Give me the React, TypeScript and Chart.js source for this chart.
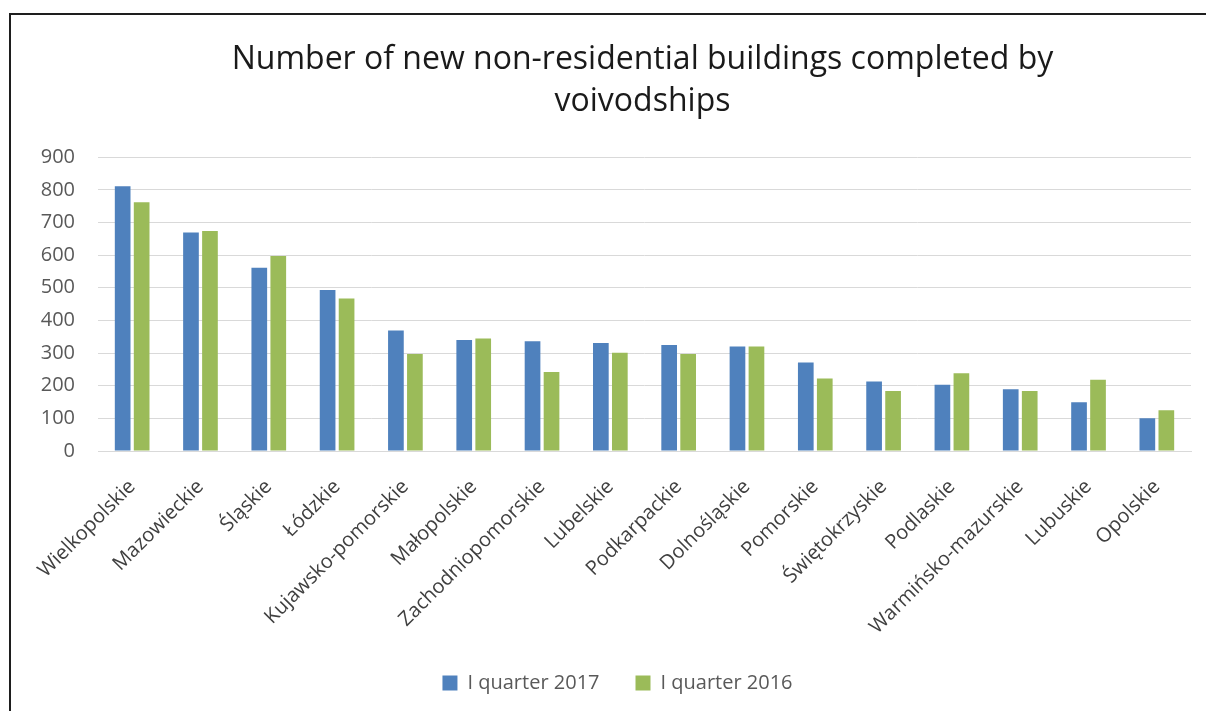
import { useEffect, useRef } from "react";
import { Chart, registerables } from "chart.js";

Chart.register(...registerables);

const categories = [
  "Wielkopolskie",
  "Mazowieckie",
  "Śląskie",
  "Łódzkie",
  "Kujawsko-pomorskie",
  "Małopolskie",
  "Zachodniopomorskie",
  "Lubelskie",
  "Podkarpackie",
  "Dolnośląskie",
  "Pomorskie",
  "Świętokrzyskie",
  "Podlaskie",
  "Warmińsko-mazurskie",
  "Lubuskie",
  "Opolskie",
];

const quarter2017 = [811, 669, 561, 493, 369, 340, 336, 331, 325, 320, 271, 213, 203, 189, 149, 100];
const quarter2016 = [762, 674, 597, 467, 297, 345, 242, 301, 297, 320, 222, 184, 238, 184, 218, 125];

const yTicks = [0, 100, 200, 300, 400, 500, 600, 700, 800, 900];

const titleLines = ["Number of new non-residential buildings completed by", "voivodships"];
const seriesLabels = ["I quarter 2017", "I quarter 2016"];

const FONT = "'Open Sans', 'DejaVu Sans', sans-serif";

const shiftPlugin = {
  id: "shiftBoxes",
  afterLayout(chart: any) {
    const t = chart.titleBlock;
    if (t) {
      t.left += 42;
      t.right += 42;
    }
    const l = chart.legend;
    if (l) {
      l.left += 17;
      l.right += 17;
      l.top -= 8;
      l.bottom -= 8;
    }
  },
};

export default function App() {
  const ref = useRef<HTMLCanvasElement>(null);

  useEffect(() => {
    const chart = new Chart(ref.current!, {
      type: "bar",
      data: {
        labels: categories,
        datasets: [
          {
            label: seriesLabels[0],
            data: quarter2017,
            backgroundColor: "#4F81BD",
            borderWidth: 0,
            categoryPercentage: 0.556,
            barPercentage: 0.826,
          },
          {
            label: seriesLabels[1],
            data: quarter2016,
            backgroundColor: "#9BBB59",
            borderWidth: 0,
            categoryPercentage: 0.556,
            barPercentage: 0.826,
          },
        ],
      },
      plugins: [shiftPlugin],
      options: {
        responsive: false,
        animation: false,
        layout: { padding: { left: 10, right: 15, top: 0, bottom: 0 } },
        plugins: {
          title: {
            display: true,
            text: titleLines,
            color: "#1a1a1a",
            font: { family: FONT, size: 32, weight: "normal", lineHeight: 1.3 },
            padding: { top: 39, bottom: 35 },
          },
          legend: {
            display: true,
            position: "bottom",
            labels: {
              boxWidth: 15,
              boxHeight: 15,
              padding: 36,
              color: "#595959",
              font: { family: FONT, size: 20 },
            },
          },
          tooltip: { enabled: false },
        },
        scales: {
          x: {
            grid: { display: false, drawTicks: false },
            border: { display: true, color: "#d9d9d9", width: 1 },
            ticks: {
              autoSkip: false,
              maxRotation: 45,
              minRotation: 45,
              color: "#404040",
              padding: 24,
              font: { family: FONT, size: 20 },
            },
            afterFit(scale: any) {
              scale.height = 194;
            },
          },
          y: {
            min: 0,
            max: 900,
            afterBuildTicks(scale: any) {
              scale.ticks = yTicks.map((v) => ({ value: v }));
            },
            grid: { color: "#d9d9d9", lineWidth: 1, drawTicks: false },
            border: { display: false },
            ticks: {
              color: "#595959",
              padding: 23,
              font: { family: FONT, size: 20 },
            },
            afterFit(scale: any) {
              scale.width = 88;
            },
          },
        },
      },
    });
    return () => chart.destroy();
  }, []);

  return (
    <div
      style={{
        position: "fixed",
        left: 0,
        top: 0,
        width: 1206,
        height: 711,
        overflow: "hidden",
        background: "#ffffff",
      }}
    >
      <div
        style={{
          position: "absolute",
          left: 9,
          top: 13,
          width: 1400,
          height: 900,
          borderLeft: "2px solid #1e1e1e",
          borderTop: "2px solid #1e1e1e",
        }}
      />
      <canvas
        ref={ref}
        width={1206}
        height={711}
        style={{ position: "absolute", left: 0, top: 0, width: 1206, height: 711 }}
      />
    </div>
  );
}
